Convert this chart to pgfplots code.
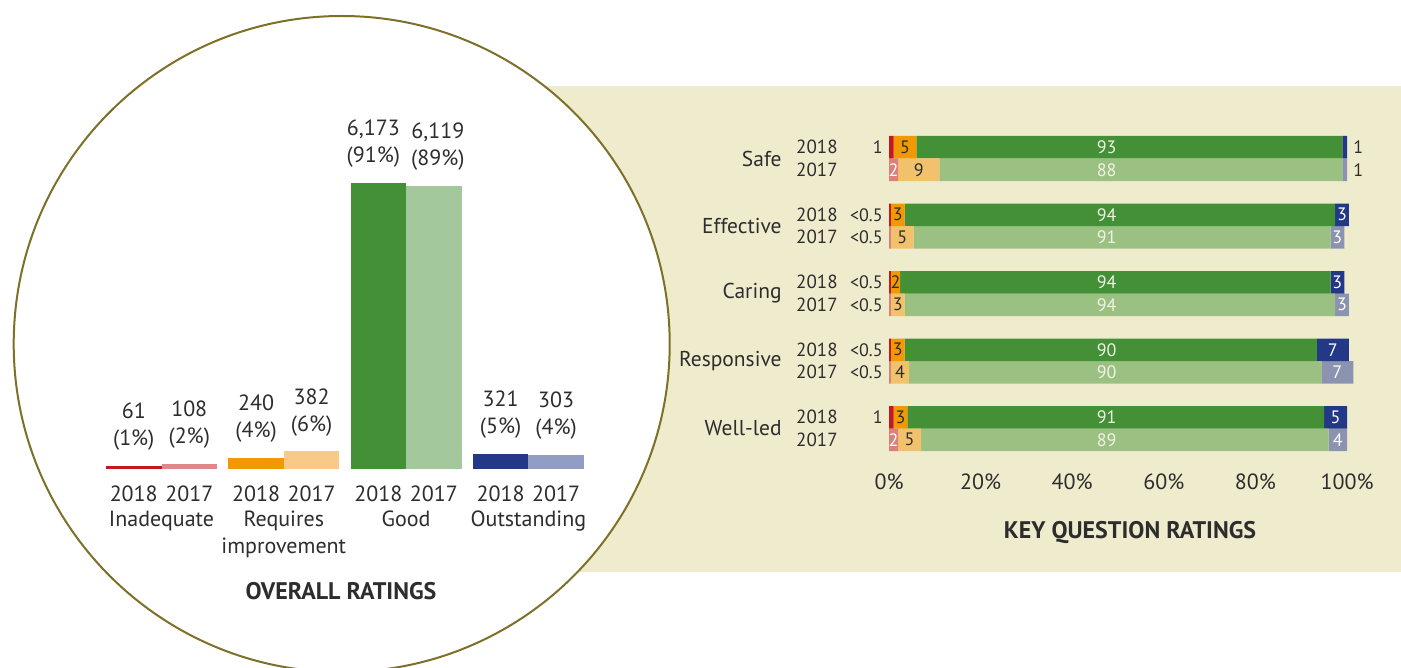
\documentclass[border=0pt]{standalone}
\usepackage{fontspec}
\setmainfont{PT Sans}
\usepackage{xcolor}
\usepackage{pgfplots}
\pgfplotsset{compat=1.18}
\usepackage{pgfplotstable}

\definecolor{Beige}{RGB}{239,236,206}
\definecolor{Olive}{RGB}{125,112,40}
\definecolor{Ink}{RGB}{45,45,45}
\definecolor{Cream}{RGB}{240,242,228}
% 2018 (dark) and 2017 (light) shades
\definecolor{cRed}{RGB}{196,24,30}
\definecolor{cOrange}{RGB}{242,152,0}
\definecolor{cGreen}{RGB}{67,144,54}
\definecolor{cNavy}{RGB}{35,56,134}
\definecolor{lRed}{RGB}{223,136,138}
\definecolor{lOrange}{RGB}{248,201,135}
\definecolor{lGreen}{RGB}{162,200,155}
\definecolor{lNavy}{RGB}{145,157,196}
\definecolor{kRed}{RGB}{220,128,122}
\definecolor{kOrange}{RGB}{241,193,108}
\definecolor{kGreen}{RGB}{155,193,130}
\definecolor{kNavy}{RGB}{140,147,176}

% key question ratings, % of locations; row = position of the bar
\pgfplotstableread{
row  r18 r17 o18 o17 g18 g17 n18 n17
0    1   0   5   0   93  0   1   0
-1   0   2   0   9   0   88  0   1
-3   0.4 0   3   0   94  0   3   0
-4   0   0.4 0   5   0   91  0   3
-6   0.4 0   2   0   94  0   3   0
-7   0   0.4 0   3   0   94  0   3
-9   0.4 0   3   0   90  0   7   0
-10  0   0.4 0   4   0   90  0   7
-12  1   0   3   0   91  0   5   0
-13  0   2   0   5   0   89  0   4
}\kq

\begin{document}
\begin{tikzpicture}
\path[use as bounding box] (0,0) rectangle (700.5pt,-334pt);
\fill[Beige] (250pt,-43pt) rectangle (700.5pt,-285.85pt);
\filldraw[fill=white, draw=Olive, line width=1pt] (170.85pt,-172pt) circle (164pt);

% ---------------- overall ratings ----------------
\begin{axis}[
    at={(50.175pt,-234.5pt)}, anchor=south west,
    scale only axis, width=244.6pt, height=162.15pt,
    xmin=-0.5, xmax=3.5, ymin=0, ymax=7000,
    ybar=0pt, bar width=27.75pt,
    axis line style={draw=none}, tick style={draw=none},
    ytick=\empty, xtick pos=lower,
    xtick={-0.227,0.227,0.773,1.227,1.773,2.227,2.773,3.227},
    xticklabels={2018,2017,2018,2017,2018,2017,2018,2017},
    xticklabel style={font=\fontsize{11}{13.5}\selectfont, text=Ink, inner sep=0pt, yshift=-4pt},
    extra x ticks={0,1,2,3},
    extra x tick labels={Inadequate,Requires\\improvement,Good,Outstanding},
    extra x tick style={xticklabel style={yshift=-12.5pt, align=center}},
    nodes near coords, point meta=explicit symbolic,
    every node near coord/.append style={font=\fontsize{11}{13.5}\selectfont, text=Ink,
        align=center, inner sep=0pt, yshift=7.5pt},
    clip=false,
]
\addplot[fill=cRed, draw=none, bar shift=-13.875pt] coordinates {(0,61) [61\\(1\%)]};
\addplot[fill=lRed, draw=none, bar shift=13.875pt] coordinates {(0,108) [108\\(2\%)]};
\addplot[fill=cOrange, draw=none, bar shift=-13.875pt] coordinates {(1,240) [240\\(4\%)]};
\addplot[fill=lOrange, draw=none, bar shift=13.875pt] coordinates {(1,382) [382\\(6\%)]};
\addplot[fill=cGreen, draw=none, bar shift=-13.875pt,
    every node near coord/.append style={xshift=-2.5pt}]
  coordinates {(2,6173) [{6,173\\(91\%)}]};
\addplot[fill=lGreen, draw=none, bar shift=13.875pt,
    every node near coord/.append style={xshift=2pt}]
  coordinates {(2,6119) [{6,119\\(89\%)}]};
\addplot[fill=cNavy, draw=none, bar shift=-13.875pt] coordinates {(3,321) [321\\(5\%)]};
\addplot[fill=lNavy, draw=none, bar shift=13.875pt] coordinates {(3,303) [303\\(4\%)]};
\end{axis}

% ---------------- key question ratings ----------------
\begin{axis}[
    at={(444.5pt,-68pt)}, anchor=north west,
    scale only axis, width=229pt, height=157.5pt,
    xmin=0, xmax=100, ymin=-13.5, ymax=0.5,
    xbar stacked, bar width=11.25pt,
    axis line style={draw=none}, tick style={draw=none},
    xtick pos=lower, ytick pos=left,
    xtick={0,20,40,60,80,100},
    xticklabels={0\%,20\%,40\%,60\%,80\%,100\%},
    xticklabel style={font=\fontsize{11}{13}\selectfont, text=Ink, inner sep=0pt, yshift=-11pt},
    ytick={-13,-12,-10,-9,-7,-6,-4,-3,-1,0},
    yticklabels={2017,2018,2017,2018,2017,2018,2017,2018,2017,2018},
    yticklabel style={font=\fontsize{9.5}{11}\selectfont, text=Ink, inner sep=0pt, xshift=-25.5pt},
    extra y ticks={-12.5,-9.5,-6.5,-3.5,-0.5},
    extra y tick labels={Well-led,Responsive,Caring,Effective,Safe},
    extra y tick style={yticklabel style={font=\fontsize{10.75}{12}\selectfont, xshift=-28pt}},
    clip=false,
]
\addplot[fill=cRed, draw=none] table[x=r18, y=row] {\kq};
\addplot[fill=kRed, draw=none] table[x=r17, y=row] {\kq};
\addplot[fill=cOrange, draw=none] table[x=o18, y=row] {\kq};
\addplot[fill=kOrange, draw=none] table[x=o17, y=row] {\kq};
\addplot[fill=cGreen, draw=none] table[x=g18, y=row] {\kq};
\addplot[fill=kGreen, draw=none] table[x=g17, y=row] {\kq};
\addplot[fill=cNavy, draw=none] table[x=n18, y=row] {\kq};
\addplot[fill=kNavy, draw=none] table[x=n17, y=row] {\kq};
\end{axis}

% value labels of the key question bars
\begin{axis}[
    at={(444.5pt,-68pt)}, anchor=north west,
    scale only axis, width=229pt, height=157.5pt,
    xmin=0, xmax=100, ymin=-13.5, ymax=0.5,
    hide axis, clip=false,
    nodes near coords, point meta=explicit symbolic,
    every node near coord/.append style={font=\fontsize{9}{10}\selectfont, inner sep=0pt},
]
% left of the bar
\addplot[draw=none, mark=none, nodes near coords align={anchor=east},
    every node near coord/.append style={anchor=east, xshift=-3pt, text=Ink}]
  coordinates {(0,0) [1] (0,-3) [<0.5] (0,-4) [<0.5] (0,-6) [<0.5] (0,-7) [<0.5]
               (0,-9) [<0.5] (0,-10) [<0.5] (0,-12) [1]};
% right of the bar
\addplot[draw=none, mark=none, nodes near coords align={anchor=west},
    every node near coord/.append style={anchor=west, xshift=3pt, text=Ink}]
  coordinates {(100,0) [1] (100,-1) [1]};
% inadequate 2017
\addplot[draw=none, mark=none, nodes near coords align={center},
    every node near coord/.append style={text=white}]
  coordinates {(1,-1) [2] (1,-13) [2]};
% requires improvement
\addplot[draw=none, mark=none, nodes near coords align={center},
    every node near coord/.append style={text=Ink}]
  coordinates {(3.5,0) [5] (6.5,-1) [9] (1.9,-3) [3] (2.9,-4) [5] (1.4,-6) [2]
               (1.9,-7) [3] (1.9,-9) [3] (2.4,-10) [4] (2.5,-12) [3] (4.5,-13) [5]};
% good
\addplot[draw=none, mark=none, nodes near coords align={center},
    every node near coord/.append style={text=Cream}]
  coordinates {(47.5,0) [93] (47.5,-1) [88] (47.5,-3) [94] (47.5,-4) [91] (47.5,-6) [94]
               (47.5,-7) [94] (47.5,-9) [90] (47.5,-10) [90] (47.5,-12) [91] (47.5,-13) [89]};
% outstanding
\addplot[draw=none, mark=none, nodes near coords align={center},
    every node near coord/.append style={text=white}]
  coordinates {(98.9,-3) [3] (97.9,-4) [3] (97.9,-6) [3] (98.9,-7) [3] (96.9,-9) [7]
               (97.9,-10) [7] (97.5,-12) [5] (98,-13) [4]};
\end{axis}

\node[font=\bfseries\fontsize{12}{14}\selectfont, text=Ink] at (170.5pt,-295.5pt) {OVERALL RATINGS};
\node[font=\bfseries\fontsize{12}{14}\selectfont, text=Ink] at (565pt,-266.5pt) {KEY QUESTION RATINGS};
\end{tikzpicture}
\end{document}
